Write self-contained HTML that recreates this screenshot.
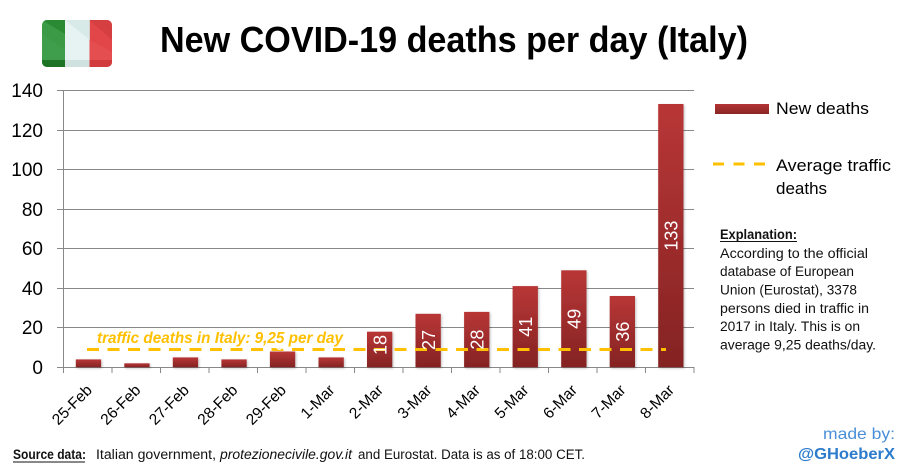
<!DOCTYPE html>
<html>
<head>
<meta charset="utf-8">
<style>
html,body{margin:0;padding:0;background:#fff;}
svg{display:block;}
text{font-family:"Liberation Sans",sans-serif;}
</style>
</head>
<body>
<svg width="911" height="470" viewBox="0 0 911 470" xmlns="http://www.w3.org/2000/svg">
<defs>
<linearGradient id="bar" x1="0" y1="0" x2="0" y2="1">
<stop offset="0" stop-color="#b93636"/>
<stop offset="1" stop-color="#842323"/>
</linearGradient>
<linearGradient id="barL" x1="0" y1="0" x2="0" y2="1">
<stop offset="0" stop-color="#b43434"/>
<stop offset="1" stop-color="#8a2626"/>
</linearGradient>
<clipPath id="fc"><rect x="42" y="20" width="70" height="47" rx="5" ry="5"/></clipPath>
<filter id="sh" x="-20%" y="-5%" width="140%" height="115%">
<feGaussianBlur in="SourceAlpha" stdDeviation="1.2"/>
<feOffset dx="1" dy="1" result="b"/>
<feComponentTransfer><feFuncA type="linear" slope="0.25"/></feComponentTransfer>
<feMerge><feMergeNode/><feMergeNode in="SourceGraphic"/></feMerge>
</filter>
</defs>
<rect width="911" height="470" fill="#fff"/>

<!-- Flag -->
<g clip-path="url(#fc)">
<rect x="42" y="20" width="23" height="47" fill="#3b9a46"/>
<rect x="65" y="20" width="25" height="47" fill="#e6f3f2"/>
<rect x="89.5" y="20" width="23" height="47" fill="#e24648"/>
<polygon points="42,20 65,20 65,34" fill="#23812b" opacity="0.7"/>
<polygon points="65,20 90,20 90,40" fill="#d2e6e4" opacity="0.7"/>
<polygon points="89.5,20 112,20 112,40" fill="#cf3a3d" opacity="0.6"/>
<polygon points="42,34 65,50 65,60 42,60" fill="#44a24f" opacity="0.5"/>
<polygon points="89.5,40 112,52 112,60 89.5,60" fill="#e85558" opacity="0.5"/>
<rect x="42" y="60" width="23" height="7" fill="#1d7424"/>
<rect x="65" y="60" width="25" height="7" fill="#cfe2e0"/>
<rect x="89.5" y="60" width="23" height="7" fill="#d13b3e"/>
</g>

<!-- Title -->
<text x="160" y="52" font-size="36" font-weight="bold" fill="#000" textLength="588" lengthAdjust="spacingAndGlyphs">New COVID-19 deaths per day (Italy)</text>

<!-- Gridlines -->
<g stroke="#888" stroke-width="1">
<line x1="57" y1="90.5" x2="694" y2="90.5"/>
<line x1="57" y1="130.5" x2="694" y2="130.5"/>
<line x1="57" y1="169.5" x2="694" y2="169.5"/>
<line x1="57" y1="209.5" x2="694" y2="209.5"/>
<line x1="57" y1="248.5" x2="694" y2="248.5"/>
<line x1="57" y1="288.5" x2="694" y2="288.5"/>
<line x1="57" y1="327.5" x2="694" y2="327.5"/>
<line x1="57" y1="367.5" x2="694" y2="367.5"/>
<line x1="63.5" y1="90" x2="63.5" y2="367"/>
<line x1="63.5" y1="367" x2="63.5" y2="373"/>
<line x1="112" y1="367" x2="112" y2="373"/>
<line x1="160.5" y1="367" x2="160.5" y2="373"/>
<line x1="209" y1="367" x2="209" y2="373"/>
<line x1="257.5" y1="367" x2="257.5" y2="373"/>
<line x1="306" y1="367" x2="306" y2="373"/>
<line x1="354.5" y1="367" x2="354.5" y2="373"/>
<line x1="403" y1="367" x2="403" y2="373"/>
<line x1="451.5" y1="367" x2="451.5" y2="373"/>
<line x1="500" y1="367" x2="500" y2="373"/>
<line x1="548.5" y1="367" x2="548.5" y2="373"/>
<line x1="597" y1="367" x2="597" y2="373"/>
<line x1="645.5" y1="367" x2="645.5" y2="373"/>
<line x1="694" y1="367" x2="694" y2="373"/>
</g>

<!-- Y labels -->
<g font-size="19" fill="#000" text-anchor="end">
<text x="43" y="97">140</text>
<text x="43" y="137">120</text>
<text x="43" y="176">100</text>
<text x="43" y="216">80</text>
<text x="43" y="255">60</text>
<text x="43" y="295">40</text>
<text x="43" y="334">20</text>
<text x="43" y="374">0</text>
</g>

<!-- Bars -->
<g fill="url(#bar)" filter="url(#sh)">
<rect x="75.8" y="359.4" width="25.3" height="7.9"/>
<rect x="124.3" y="363.3" width="25.3" height="4"/>
<rect x="172.8" y="357.4" width="25.3" height="9.9"/>
<rect x="221.4" y="359.4" width="25.3" height="7.9"/>
<rect x="269.9" y="351.5" width="25.3" height="15.8"/>
<rect x="318.5" y="357.4" width="25.3" height="9.9"/>
<rect x="367.0" y="331.7" width="25.3" height="35.6"/>
<rect x="415.5" y="313.8" width="25.3" height="53.5"/>
<rect x="464.1" y="311.9" width="25.3" height="55.4"/>
<rect x="512.6" y="286.1" width="25.3" height="81.2"/>
<rect x="561.2" y="270.3" width="25.3" height="97"/>
<rect x="609.7" y="296.0" width="25.3" height="71.3"/>
<rect x="658.2" y="104.0" width="25.3" height="263.3"/>
</g>

<!-- Average line -->
<line x1="87" y1="349.5" x2="666" y2="349.5" stroke="#ffc000" stroke-width="3" stroke-dasharray="12,8.5"/>

<!-- Bar labels -->
<g font-size="18" fill="#fff" text-anchor="middle">
<text transform="translate(289,346) rotate(-90)">8</text>
<text transform="translate(386.5,345) rotate(-90)">18</text>
<text transform="translate(435,340) rotate(-90)">27</text>
<text transform="translate(483.5,339.6) rotate(-90)">28</text>
<text transform="translate(532,326.7) rotate(-90)">41</text>
<text transform="translate(580.5,318.8) rotate(-90)">49</text>
<text transform="translate(629,331.6) rotate(-90)">36</text>
<text transform="translate(677.5,235.6) rotate(-90)">133</text>
</g>

<!-- Annotation -->
<text x="97" y="343" font-size="16" font-weight="bold" font-style="italic" fill="#ffc000" textLength="246" lengthAdjust="spacingAndGlyphs">traffic deaths in Italy: 9,25 per day</text>

<!-- X labels -->
<g font-size="15.5" fill="#000" text-anchor="end">
<text transform="translate(93,391) rotate(-45)">25-Feb</text>
<text transform="translate(141.5,391) rotate(-45)">26-Feb</text>
<text transform="translate(190,391) rotate(-45)">27-Feb</text>
<text transform="translate(238.5,391) rotate(-45)">28-Feb</text>
<text transform="translate(287,391) rotate(-45)">29-Feb</text>
<text transform="translate(335.5,391) rotate(-45)">1-Mar</text>
<text transform="translate(384,391) rotate(-45)">2-Mar</text>
<text transform="translate(432.5,391) rotate(-45)">3-Mar</text>
<text transform="translate(481,391) rotate(-45)">4-Mar</text>
<text transform="translate(529.5,391) rotate(-45)">5-Mar</text>
<text transform="translate(578,391) rotate(-45)">6-Mar</text>
<text transform="translate(626.5,391) rotate(-45)">7-Mar</text>
<text transform="translate(675,391) rotate(-45)">8-Mar</text>
</g>

<!-- Legend -->
<rect x="715" y="104" width="54" height="10" fill="url(#barL)"/>
<text x="776" y="114" font-size="17" fill="#000" textLength="93" lengthAdjust="spacingAndGlyphs">New deaths</text>
<line x1="713" y1="164" x2="767" y2="164" stroke="#ffc000" stroke-width="3" stroke-dasharray="11,9.5"/>
<text x="776" y="171" font-size="17" fill="#000" textLength="115" lengthAdjust="spacingAndGlyphs">Average traffic</text>
<text x="776" y="194" font-size="17" fill="#000">deaths</text>

<!-- Explanation -->
<g font-size="13.5" fill="#111">
<text x="720" y="239" font-weight="bold" textLength="77" lengthAdjust="spacingAndGlyphs">Explanation:</text>
<line x1="720" y1="241.5" x2="797" y2="241.5" stroke="#111" stroke-width="1"/>
<text x="720" y="258" textLength="148" lengthAdjust="spacingAndGlyphs">According to the official</text>
<text x="720" y="276" textLength="134" lengthAdjust="spacingAndGlyphs">database of European</text>
<text x="720" y="294.5" textLength="137" lengthAdjust="spacingAndGlyphs">Union (Eurostat), 3378</text>
<text x="720" y="313" textLength="149" lengthAdjust="spacingAndGlyphs">persons died in traffic in</text>
<text x="720" y="331" textLength="140" lengthAdjust="spacingAndGlyphs">2017  in Italy. This is on</text>
<text x="720" y="349.5" textLength="156" lengthAdjust="spacingAndGlyphs">average 9,25  deaths/day.</text>
</g>

<!-- Footer -->
<g font-size="13.5" fill="#111">
<text x="13" y="459" font-weight="bold" textLength="73" lengthAdjust="spacingAndGlyphs">Source data:</text>
<line x1="13" y1="462" x2="85" y2="462" stroke="#111" stroke-width="1"/>
<text x="96" y="459" textLength="120" lengthAdjust="spacingAndGlyphs">Italian government,</text>
<text x="220" y="459" font-style="italic" textLength="132" lengthAdjust="spacingAndGlyphs">protezionecivile.gov.it</text>
<text x="358" y="459" textLength="227" lengthAdjust="spacingAndGlyphs">and Eurostat. Data is as of 18:00  CET.</text>
</g>

<!-- Made by -->
<text x="823" y="439" font-size="16" fill="#4a8fd6" textLength="72" lengthAdjust="spacingAndGlyphs">made by:</text>
<text x="798" y="459" font-size="16" font-weight="bold" fill="#2d7ccc" textLength="97" lengthAdjust="spacingAndGlyphs">@GHoeberX</text>
</svg>
</body>
</html>
